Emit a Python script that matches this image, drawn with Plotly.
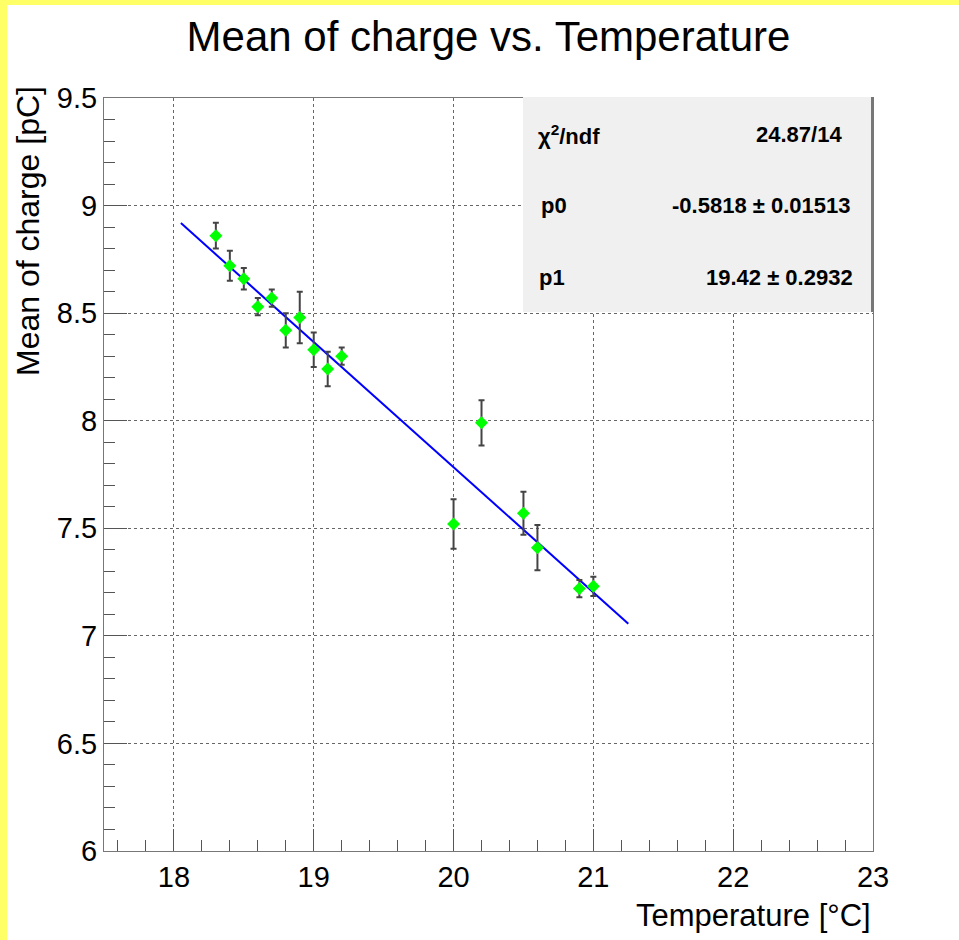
import plotly.graph_objects as go

# ---- data ----
temperature = [18.3, 18.4, 18.5, 18.6, 18.7, 18.8, 18.9, 19.0, 19.1, 19.2,
               20.0, 20.2, 20.5, 20.6, 20.9, 21.0]
mean_charge = [8.86, 8.72, 8.66, 8.53, 8.57, 8.42, 8.48, 8.33, 8.24, 8.30,
               7.52, 7.99, 7.57, 7.41, 7.22, 7.23]
charge_err = [0.06, 0.07, 0.05, 0.04, 0.04, 0.08, 0.12, 0.08, 0.08, 0.04,
              0.115, 0.105, 0.10, 0.105, 0.04, 0.045]
fit_p0 = -0.5818
fit_p1 = 19.42
fit_range = [18.05, 21.25]
stats_labels = ["χ<sup>2</sup>/ndf", "p0", "p1"]
stats_values = ["24.87/14", "-0.5818 ± 0.01513", "19.42 ± 0.2932"]
x_ticks = [18, 19, 20, 21, 22, 23]
y_ticks = [6, 6.5, 7, 7.5, 8, 8.5, 9, 9.5]

W, H = 959, 940
L, R, T, B = 104, 873, 98, 851
FONT = "Liberation Sans, Arial, sans-serif"


def px(x):
    return (x - L) / (R - L)


def py(y):
    return (B - y) / (B - T)


fit_x = [fit_range[0] + i * (fit_range[1] - fit_range[0]) / 100 for i in range(101)]
fit_y = [fit_p0 * v + fit_p1 for v in fit_x]

fig = go.Figure()
fig.add_trace(go.Scatter(
    x=fit_x, y=fit_y, mode="lines",
    line=dict(color="#0000ff", width=2), showlegend=False, hoverinfo="skip"))
fig.add_trace(go.Scatter(
    x=temperature, y=mean_charge, mode="markers",
    marker=dict(symbol="diamond", size=10, color="#00ff00"),
    error_y=dict(type="data", array=charge_err, visible=True,
                 color="#444444", thickness=2, width=3),
    showlegend=False))

axis_common = dict(
    showline=True, linecolor="#777777", linewidth=1, mirror=True,
    ticks="inside", tickcolor="#555555", tickwidth=1,
    showgrid=True, gridcolor="#666666", griddash="dot", gridwidth=1,
    zeroline=False,
    tickfont=dict(family=FONT, size=29, color="black"),
)

fig.update_xaxes(range=[17.5, 23], tickvals=x_ticks, ticklen=22,
                 minor=dict(dtick=0.2, ticklen=11, ticks="inside",
                            tickcolor="#555555", showgrid=False),
                 **axis_common)
fig.update_yaxes(range=[6, 9.5], tickvals=y_ticks,
                 ticktext=[f"{v:g}" for v in y_ticks], ticklen=23,
                 minor=dict(dtick=0.1, ticklen=11, ticks="inside",
                            tickcolor="#555555", showgrid=False),
                 **axis_common)

shapes = [
    # yellow canvas border
    dict(type="rect", xref="paper", yref="paper",
         x0=px(0), x1=px(7), y0=py(H), y1=py(0),
         fillcolor="#ffff66", line=dict(width=0), layer="above"),
    dict(type="rect", xref="paper", yref="paper",
         x0=px(0), x1=px(W), y0=py(5), y1=py(0),
         fillcolor="#ffff66", line=dict(width=0), layer="above"),
    # stats box
    dict(type="rect", xref="paper", yref="paper",
         x0=px(523), x1=px(873), y0=py(312), y1=py(97),
         fillcolor="#f0f0f0", line=dict(width=0), layer="above"),
    dict(type="line", xref="paper", yref="paper",
         x0=px(872), x1=px(872), y0=py(312), y1=py(97),
         line=dict(color="#777777", width=2), layer="above"),
]

annotations = []
row_y = [135, 205, 277]
label_x = [536, 539, 537]
value_x = [844, 852, 855]
for lab, val, yy, lx, vx in zip(stats_labels, stats_values, row_y, label_x, value_x):
    annotations.append(dict(
        text=f"<b>{lab}</b>", x=px(lx), y=py(yy), xref="paper", yref="paper",
        xanchor="left", yanchor="middle", showarrow=False,
        font=dict(family=FONT, size=22, color="black")))
    annotations.append(dict(
        text=f"<b>{val}</b>", x=px(vx), y=py(yy), xref="paper", yref="paper",
        xanchor="right", yanchor="middle", showarrow=False,
        font=dict(family=FONT, size=22, color="black")))

annotations.append(dict(
    text="Temperature [°C]", x=px(873), y=py(915), xref="paper", yref="paper",
    xanchor="right", yanchor="middle", showarrow=False,
    font=dict(family=FONT, size=31, color="black")))
annotations.append(dict(
    text="Mean of charge [pC]", x=px(28), y=py(84), xref="paper", yref="paper",
    xanchor="center", yanchor="top", textangle=-90, showarrow=False,
    font=dict(family=FONT, size=32, color="black")))

fig.update_layout(
    width=W, height=H,
    margin=dict(l=L, r=W - R, t=T, b=H - B),
    paper_bgcolor="white", plot_bgcolor="white",
    title=dict(text="Mean of charge vs. Temperature", x=0.5, xref="paper",
               y=1 - 36 / H, yref="container", xanchor="center", yanchor="middle",
               font=dict(family=FONT, size=42, color="black")),
    shapes=shapes, annotations=annotations,
)

fig.write_html("out.html")
